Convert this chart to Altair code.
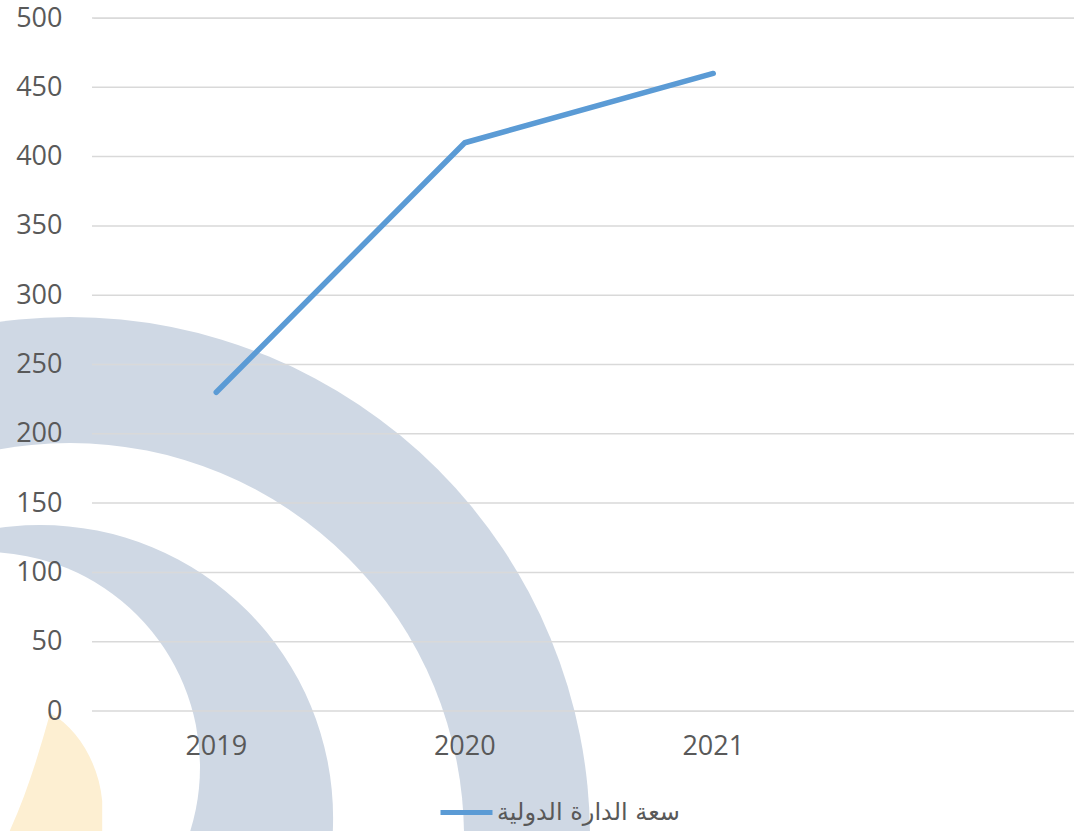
import math
import altair as alt
import pandas as pd

# ---- data ----
years = ["2019", "2020", "2021"]
values = [230, 410, 460]
series_name = "سعة الدارة الدولية"
x_domain = years + [""]          # empty 4th category slot (as in the source chart)
y_ticks = list(range(0, 501, 50))

line_df = pd.DataFrame({"year": years, "value": values, "series": [series_name] * len(years)})
grid_df = pd.DataFrame({"value": y_ticks})
one = pd.DataFrame({"k": [0]})

# ---- styling ----
LINE = "#5B9BD5"
GRID = "#D9D9D9"
LABEL = "#595959"
BAND = "#CFD8E4"
FLAME = "#FDEFD2"
FONT = "Open Sans"

W, H = 982, 693

# white cover for the default view frame on the left edge
cover = alt.Chart(one).mark_rule(color="white", strokeWidth=3).encode(
    x=alt.value(0), y=alt.value(-2), y2=alt.value(H + 2)
)

# ---- background watermark (decorative) ----
def disc(cx, cy, r, color):
    return alt.Chart(one).mark_arc(radius=r, theta=0, theta2=2 * math.pi, color=color).encode(
        x=alt.value(cx), y=alt.value(cy)
    )

wm = [
    disc(-22, 819, 520, BAND),
    disc(-22, 819, 394, "white"),
    disc(-52, 800, 293, BAND),
    disc(-107, 749, 215, "white"),
]
flame_path = "M-0.06,-1 C0.3,-0.8 0.55,-0.35 0.59,0.1 L0.59,1 L-0.75,1 L-0.56,0.46 C-0.35,0 -0.2,-0.5 -0.06,-1 Z"
flame = alt.Chart(one).mark_point(shape=flame_path, size=25600, filled=True, color=FLAME, opacity=1, strokeWidth=0).encode(
    x=alt.value(-37), y=alt.value(775)
)

y_axis = alt.Axis(title=None, values=y_ticks, domain=False, ticks=False, grid=False,
                  labelPadding=30, labelFontSize=27, labelFont=FONT, labelColor=LABEL, zindex=1)
y_scale = alt.Scale(domain=[0, 500], nice=False)

# ---- grid ----
grid = alt.Chart(grid_df).mark_rule(color=GRID, strokeWidth=1.5).encode(
    y=alt.Y("value:Q", axis=y_axis, scale=y_scale)
)

# ---- line ----
line = alt.Chart(line_df).mark_line(strokeWidth=5.5, strokeCap="round", strokeJoin="round").encode(
    x=alt.X(
        "year:N",
        bandPosition=0.5,
        scale=alt.Scale(type="band", domain=x_domain, range=[0, 994], paddingInner=0, paddingOuter=0),
        axis=alt.Axis(title=None, labelAngle=0, domain=False, ticks=False, grid=False,
                      labelPadding=22, labelFontSize=27, labelFont=FONT, labelColor=LABEL, zindex=1),
    ),
    y=alt.Y("value:Q", scale=y_scale, axis=y_axis),
    color=alt.Color(
        "series:N",
        scale=alt.Scale(range=[LINE]),
        legend=alt.Legend(title=None, orient="none", legendX=346, legendY=766,
                          symbolType="stroke", symbolSize=2704, symbolStrokeWidth=5,
                          labelFontSize=24, labelFont="DejaVu Sans", labelColor=LABEL,
                          labelOffset=2, labelLimit=0, padding=0),
    ),
)

chart = alt.layer(cover, *wm, flame, grid, line).properties(
    width=W,
    height=H,
    autosize=alt.AutoSizeParams(type="none"),
    padding={"left": 92, "top": 18, "right": 0, "bottom": 120},
).configure_view(stroke="transparent", strokeWidth=0).configure_axis(
    domain=False, grid=False, ticks=False
).configure(background="white")

chart.save("out.html", embed_options={"renderer": "svg", "actions": False})
